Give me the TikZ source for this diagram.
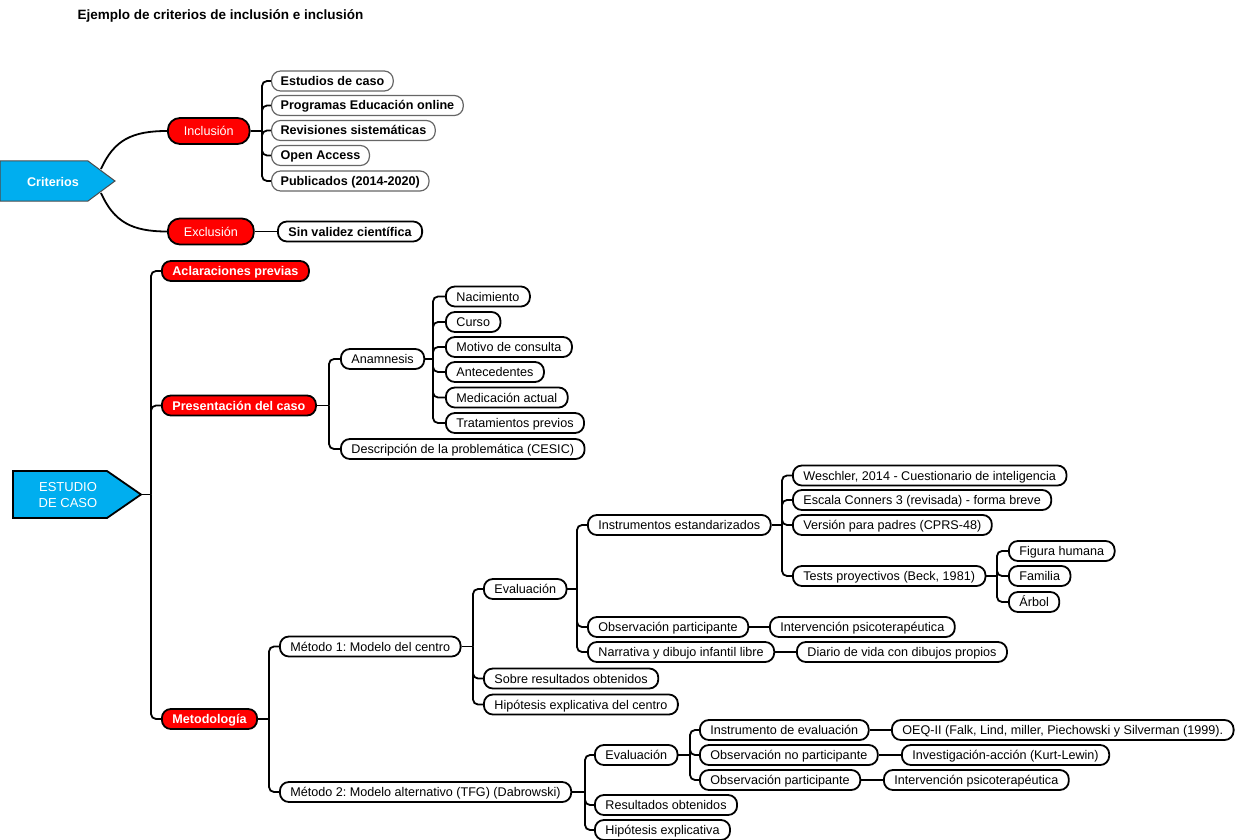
\documentclass[tikz,border=0pt]{standalone}
\usepackage{fontspec}
\setmainfont{Liberation Sans}
\frenchspacing
\newcommand\fs{\fontsize{12.6}{15}\selectfont}
\definecolor{cblue}{RGB}{0,174,239}
\newcommand\branch[3]{%
  \coordinate (bk) at (#2,0);
  \draw[conn] (#1) -- (#1 -| bk);
  \foreach \c in {#3}{\draw[conn,rounded corners=5pt] (#1 -| bk) |- (\c.west);}
}
\begin{document}
\begin{tikzpicture}[x=1pt,y=-1pt,
  conn/.style={line width=1.8pt, black},
  box/.style={draw=black, line width=1.8pt, fill=white, rounded corners=9pt, anchor=west,
    inner xsep=10.5pt, inner ysep=0pt, minimum height=20pt, text height=9pt, text depth=0pt, font=\fs},
  gbox/.style={box, draw=black!60, line width=1.2pt, font=\fs\bfseries, inner xsep=9pt},
  bbox/.style={box, font=\fs\bfseries},
  rbox/.style={box, fill=red, text=white, font=\fs\bfseries},
  rbig/.style={box, fill=red, text=white, minimum height=26pt, inner xsep=16pt, rounded corners=12pt},
]
\useasboundingbox (0,0) rectangle (1240,840);

\node[anchor=west, font=\fontsize{13.5}{16}\selectfont\bfseries] (title) at (74,15.5) {Ejemplo de criterios de inclusión e inclusión};

% ---------- Criterios ----------
\node[rbig] (inc) at (167,131) {Inclusión};
\node[rbig] (exc) at (167,231.5) {Exclusión};
\node[gbox] (c1) at (271,81) {Estudios de caso};
\node[gbox] (c2) at (271,105.5) {Programas Educación online};
\node[gbox] (c3) at (271,130.5) {Revisiones sistemáticas};
\node[gbox] (c4) at (271,155.5) {Open Access};
\node[gbox] (c5) at (271,181) {Publicados (2014-2020)};
\node[bbox] (sinv) at (277,231.5) {Sin validez científica};

\coordinate (critT) at (101,169);
\coordinate (critB) at (101,193);
\draw[conn] (critT) .. controls (114,140) and (132,131) .. (inc.west);
\draw[conn] (critB) .. controls (114,222) and (132,231.5) .. (exc.west);
\filldraw[fill=cblue, draw=black!70, line width=1pt] (0,161) -- (88,161) -- (115,181) -- (88,201) -- (0,201) -- cycle;
\node[text=white, font=\fs\bfseries] (crit) at (53,182) {Criterios};

\branch{inc.east}{262}{c1,c2,c3,c4,c5}
\draw[conn] (exc.east) -- (sinv.west);

% ---------- Estudio de caso ----------
\filldraw[fill=cblue, draw=black, line width=1.8pt] (13,471) -- (107,471) -- (141,494.5) -- (107,518) -- (13,518) -- cycle;
\coordinate (ec) at (141,494.5);
\node[text=white, font=\fontsize{13}{16}\selectfont, align=center] (ectext) at (68,495) {ESTUDIO\\DE CASO};

\node[rbox] (acl) at (161,271) {Aclaraciones previas};
\node[rbox] (pres) at (161,405.5) {Presentación del caso};
\node[rbox] (met) at (161,719) {Metodología};

\node[box] (anam) at (340,359) {Anamnesis};
\node[box] (desc) at (340,449) {Descripción de la problemática (CESIC)};
\node[box] (nac) at (445,296.5) {Nacimiento};
\node[box] (cur) at (445,322) {Curso};
\node[box] (mot) at (445,347) {Motivo de consulta};
\node[box] (ant) at (445,372) {Antecedentes};
\node[box] (med) at (445,397.5) {Medicación actual};
\node[box] (trat) at (445,423) {Tratamientos previos};

\node[box] (m1) at (279,646.5) {Método 1: Modelo del centro};
\node[box] (m2) at (279,792) {Método 2: Modelo alternativo (TFG) (Dabrowski)};

\node[box] (ev1) at (483,589) {Evaluación};
\node[box] (sobre) at (483,678.5) {Sobre resultados obtenidos};
\node[box] (hip1) at (483,704.5) {Hipótesis explicativa del centro};

\node[box] (inst) at (587,525) {Instrumentos estandarizados};
\node[box] (obs1) at (587,627) {Observación participante};
\node[box] (narr) at (587,652) {Narrativa y dibujo infantil libre};

\node[box] (wes) at (792,475.5) {Weschler, 2014 - Cuestionario de inteligencia};
\node[box] (esc) at (792,500) {Escala Conners 3 (revisada) - forma breve};
\node[box] (ver) at (792,525) {Versión para padres (CPRS-48)};
\node[box] (tests) at (792,576) {Tests proyectivos (Beck, 1981)};

\node[box] (fig) at (1008,551) {Figura humana};
\node[box] (fam) at (1008,576) {Familia};
\node[box] (arb) at (1008,602) {Árbol};

\node[box] (int1) at (769,627) {Intervención psicoterapéutica};
\node[box] (diar) at (796,652) {Diario de vida con dibujos propios};

\node[box] (ev2) at (594,755) {Evaluación};
\node[box] (res) at (594,805) {Resultados obtenidos};
\node[box] (hip2) at (594,830) {Hipótesis explicativa};

\node[box] (instev) at (699,730) {Instrumento de evaluación};
\node[box] (obsno) at (699,755) {Observación no participante};
\node[box] (obs2) at (699,780) {Observación participante};

\node[box] (oeq) at (891,730) {OEQ-II (Falk, Lind, miller, Piechowski y Silverman (1999).};
\node[box] (inv) at (901,755) {Investigación-acción (Kurt-Lewin)};
\node[box] (int2) at (883,780) {Intervención psicoterapéutica};

% connectors
\branch{ec}{151}{acl,pres,met}
\branch{pres.east}{329}{anam,desc}
\branch{anam.east}{433}{nac,cur,mot,ant,med,trat}
\branch{met.east}{269}{m1,m2}
\branch{m1.east}{473}{ev1,sobre,hip1}
\branch{ev1.east}{577}{inst,obs1,narr}
\branch{inst.east}{782}{wes,esc,ver,tests}
\branch{tests.east}{997}{fig,fam,arb}
\draw[conn] (obs1.east) -- (int1.west);
\draw[conn] (narr.east) -- (diar.west);
\branch{m2.east}{585}{ev2,res,hip2}
\branch{ev2.east}{690}{instev,obsno,obs2}
\draw[conn] (instev.east) -- (oeq.west);
\draw[conn] (obsno.east) -- (inv.west);
\draw[conn] (obs2.east) -- (int2.west);
\end{tikzpicture}
\end{document}
